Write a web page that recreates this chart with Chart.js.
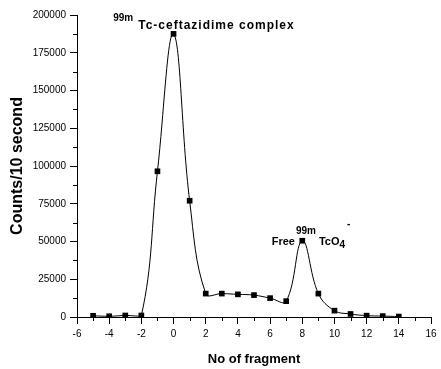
<!DOCTYPE html>
<html>
<head>
<meta charset="utf-8">
<script src="https://cdn.jsdelivr.net/npm/chart.js@4.4.1/dist/chart.umd.min.js"></script>
<style>
  html, body { margin: 0; padding: 0; background: #fff; }
  #wrap { width: 441px; height: 369px; position: relative; }
</style>
</head>
<body>
<div id="wrap"><canvas id="chart"></canvas></div>
<script>
// fraction number and counts
const fragments = [-5, -4, -3, -2, -1, 0, 1, 2, 3, 4, 5, 6, 7, 8, 9, 10, 11, 12, 13, 14];
const counts = [800, 500, 1000, 1000, 96500, 187500, 77000, 15500, 15500, 15000, 14500, 12500, 10500, 50500, 15500, 4200, 2000, 900, 600, 300];

const xMinorTicks = [-5, -3, -1, 1, 3, 5, 7, 9, 11, 13, 15];
const yMinorTicks = [12500, 37500, 62500, 87500, 112500, 137500, 162500, 187500];

const FONT = 'Arial, "Liberation Sans", sans-serif';

// draws minor ticks and the peak labels
const extrasPlugin = {
    id: 'extras',
    afterDraw(chart) {
        const ctx = chart.ctx;
        const x = chart.scales.x;
        const y = chart.scales.y;
        const area = chart.chartArea;

        ctx.save();
        ctx.strokeStyle = '#000';
        ctx.lineWidth = 1;
        ctx.beginPath();
        xMinorTicks.forEach((v) => {
            const px = Math.round(x.getPixelForValue(v)) + 0.5;
            ctx.moveTo(px, area.bottom);
            ctx.lineTo(px, area.bottom + 4);
        });
        yMinorTicks.forEach((v) => {
            const py = Math.round(y.getPixelForValue(v)) + 0.5;
            ctx.moveTo(area.left, py);
            ctx.lineTo(area.left - 4, py);
        });
        ctx.stroke();

        ctx.fillStyle = '#000';
        ctx.textBaseline = 'alphabetic';
        ctx.textAlign = 'left';

        // 99mTc-ceftazidime complex
        let px = x.getPixelForValue(-3.75);
        let py = y.getPixelForValue(191000);
        ctx.font = 'bold 10px ' + FONT;
        ctx.letterSpacing = '0px';
        ctx.fillText('99m', px, py - 8);
        px += ctx.measureText('99m').width + 5;
        ctx.font = 'bold 12px ' + FONT;
        ctx.letterSpacing = '1px';
        ctx.fillText('Tc-ceftazidime complex', px, py);

        // Free 99mTcO4-
        px = x.getPixelForValue(6.1);
        py = y.getPixelForValue(47500);
        ctx.font = 'bold 11px ' + FONT;
        ctx.letterSpacing = '0px';
        ctx.fillText('Free', px, py);
        px += ctx.measureText('Free').width + 1;
        ctx.font = 'bold 10px ' + FONT;
        ctx.fillText('99m', px, py - 11);
        px += ctx.measureText('99m').width + 3;
        ctx.font = 'bold 11px ' + FONT;
        ctx.fillText('TcO', px, py);
        px += ctx.measureText('TcO').width;
        ctx.font = 'bold 10px ' + FONT;
        ctx.fillText('4', px, py + 3);
        px += ctx.measureText('4').width + 2;
        ctx.fillText('-', px, py - 18);
        ctx.restore();
    },
};

new Chart(document.getElementById('chart'), {
    type: 'line',
    data: {
        datasets: [{
            data: fragments.map((f, i) => ({ x: f, y: counts[i] })),
            borderColor: '#000',
            borderWidth: 1,
            backgroundColor: '#000',
            pointStyle: 'rect',
            pointRadius: 4,
            pointBorderWidth: 0,
            tension: 0.4,
            fill: false,
        }],
    },
    options: {
        responsive: true,
        maintainAspectRatio: false,
        animation: false,
        events: [],
        layout: { padding: { top: 15, right: 10, left: 0, bottom: 0 } },
        plugins: { legend: { display: false }, tooltip: { enabled: false } },
        scales: {
            x: {
                type: 'linear',
                min: -6,
                max: 16,
                ticks: { stepSize: 2, color: '#000', font: { family: FONT, size: 10 }, padding: 4, maxRotation: 0 },
                grid: { drawOnChartArea: false, drawTicks: true, tickLength: 7, color: '#000' },
                border: { color: '#000', width: 1 },
                title: { display: true, text: 'No of fragment', color: '#000', font: { family: FONT, size: 13, weight: 'bold' }, padding: { top: 6, bottom: 2 } },
                afterFit(scale) { scale.height = 52; },
            },
            y: {
                min: 0,
                max: 200000,
                ticks: {
                    stepSize: 25000,
                    color: '#000',
                    font: { family: FONT, size: 10 },
                    padding: 4,
                    callback: (v) => String(v),
                },
                grid: { drawOnChartArea: false, drawTicks: true, tickLength: 7, color: '#000' },
                border: { color: '#000', width: 1 },
                title: { display: true, text: 'Counts/10 second', color: '#000', font: { family: FONT, size: 16, weight: 'bold' }, padding: { top: 8, bottom: 0 } },
                afterFit(scale) { scale.width = 77; },
            },
        },
    },
    plugins: [extrasPlugin],
});
</script>
</body>
</html>
